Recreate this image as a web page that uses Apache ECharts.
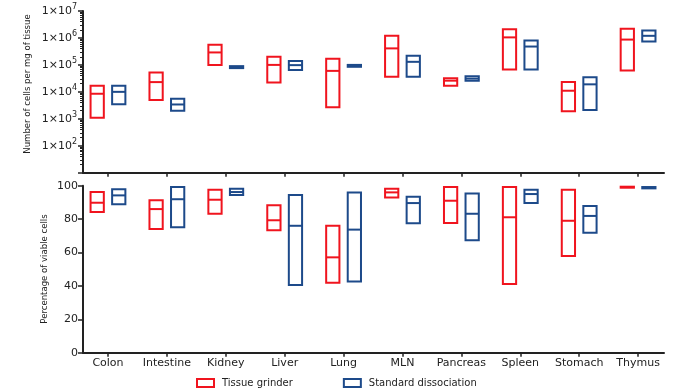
<!DOCTYPE html>
<html>
<head>
<meta charset="utf-8">
<script src="https://cdn.jsdelivr.net/npm/echarts@6/dist/echarts.min.js"></script>
<style>
html,body{margin:0;padding:0;background:#fff;}
#chart{width:688px;height:391px;}
</style>
</head>
<body>
<div id="chart"></div>
<script>
// Categories (tissues)
const categories = ['Colon','Intestine','Kidney','Liver','Lung','MLN','Pancreas','Spleen','Stomach','Thymus'];

// Number of cells per mg of tissue: [min, median, max]
const cellsGrinder = [
  [1.1e3, 8.5e3, 1.7e4],
  [5.0e3, 2.3e4, 5.2e4],
  [1.0e5, 2.9e5, 5.6e5],
  [2.2e4, 1.0e5, 2.0e5],
  [2.7e3, 6.0e4, 1.7e5],
  [3.6e4, 4.1e5, 1.2e6],
  [1.7e4, 2.6e4, 3.2e4],
  [6.8e4, 1.05e6, 2.1e6],
  [1.9e3, 1.1e4, 2.3e4],
  [6.2e4, 8.7e5, 2.2e6]
];
const cellsStandard = [
  [3.5e3, 1.0e4, 1.7e4],
  [2.0e3, 3.4e3, 5.5e3],
  [7.6e4, 8.3e4, 9.0e4],
  [6.5e4, 9.8e4, 1.4e5],
  [8.5e4, 9.2e4, 1.0e5],
  [3.6e4, 1.3e5, 2.2e5],
  [2.6e4, 3.1e4, 3.8e4],
  [6.8e4, 4.8e5, 8.1e5],
  [2.1e3, 1.9e4, 3.5e4],
  [7.4e5, 1.2e6, 1.9e6]
];

// Percentage of viable cells: [min, median, max]
const viableGrinder = [
  [84.3, 89.8, 96.2],
  [74.1, 86.0, 91.3],
  [83.2, 91.6, 97.6],
  [73.3, 79.3, 88.3],
  [41.9, 57.1, 76.0],
  [93.0, 96.0, 98.2],
  [77.7, 91.0, 99.2],
  [41.1, 81.1, 99.2],
  [57.9, 79.0, 97.6],
  [99.0, 99.2, 99.4]
];
const viableStandard = [
  [88.9, 94.2, 97.8],
  [75.1, 91.9, 99.2],
  [94.4, 96.2, 98.2],
  [40.5, 76.0, 94.4],
  [42.7, 73.7, 96.0],
  [77.5, 89.6, 93.4],
  [67.3, 83.2, 95.4],
  [89.6, 95.0, 97.6],
  [71.9, 81.9, 87.8],
  [98.4, 98.8, 99.2]
];

// Axis tick labels
const logTickExponents = [2,3,4,5,6,7];
const viableTicks = [0,20,40,60,80,100];

const RED = '#f0141e';
const BLUE = '#1d4a8a';
const AXIS = '#222';
const FONT = 'DejaVu Sans';
const catIdx = categories.map((c,i)=>i);

function toRows(arr){ return arr.map((d,i)=>[i, d[0], d[1], d[2]]); }

function makeRender(color, side){
  return function(params, api){
    const i = api.value(0);
    const unit = api.size([1,0])[0];
    const cx = api.coord([i, api.value(2)])[0] + side*0.183*unit;
    const w = 0.225*unit;
    const yTop = api.coord([i, api.value(3)])[1];
    const yMed = api.coord([i, api.value(2)])[1];
    const yBot = api.coord([i, api.value(1)])[1];
    return {
      type:'group',
      children:[
        {type:'rect', shape:{x:cx-w/2, y:yTop, width:w, height:Math.max(yBot-yTop,1)},
         style:{fill:'none', stroke:color, lineWidth:2}},
        {type:'line', shape:{x1:cx-w/2, y1:yMed, x2:cx+w/2, y2:yMed},
         style:{stroke:color, lineWidth:2}}
      ]
    };
  };
}

// minor tick positions (in log10 space) for decoration
const minorTicks = [];
for (let n=1;n<7;n++){ for (let k=2;k<10;k++){ minorTicks.push(n+Math.log10(k)); } }

const xCommon = {
  type:'value', min:-0.424, max:9.44,
  axisLine:{show:true, onZero:false, lineStyle:{color:AXIS, width:2}},
  axisTick:{show:true, customValues:catIdx, length:4, lineStyle:{color:AXIS, width:1.5}},
  splitLine:{show:false}
};

const option = {
  animation:false,
  backgroundColor:'#fff',
  textStyle:{fontFamily:FONT},
  grid:[
    {left:83, right:24, top:11, height:161.7},
    {left:83, right:24, top:185.7, height:167}
  ],
  xAxis:[
    Object.assign({}, xCommon, {gridIndex:0, axisLabel:{show:false}}),
    Object.assign({}, xCommon, {gridIndex:1,
      axisLabel:{show:true, customValues:catIdx, color:AXIS, fontSize:11, fontFamily:FONT, margin:5,
        formatter:(v)=>categories[Math.round(v)]}})
  ],
  yAxis:[
    {type:'log', logBase:10, gridIndex:0, position:'left', min:10, max:1e7, splitNumber:6,
     axisLine:{show:true, onZero:false, lineStyle:{color:AXIS, width:2}},
     axisTick:{show:true, length:5, lineStyle:{color:AXIS, width:1.5}},
     splitLine:{show:false},
     axisLabel:{color:AXIS, margin:6, fontFamily:FONT,
       formatter:function(v){
         const e = Math.round(Math.log10(v));
         if (logTickExponents.indexOf(e) < 0) return '';
         return '{b|1×10}{s|' + e + '}';
       },
       rich:{
         b:{fontSize:11, color:AXIS, fontFamily:FONT},
         s:{fontSize:8, color:AXIS, fontFamily:FONT, padding:[0,0,8,0]}
       }
     }
    },
    {type:'value', gridIndex:0, position:'left', offset:0, min:1, max:7,
     axisLine:{show:false, onZero:false},
     axisTick:{show:true, customValues:minorTicks, length:3, lineStyle:{color:AXIS, width:1}},
     axisLabel:{show:false}, splitLine:{show:false}
    },
    {type:'value', gridIndex:1, position:'left', min:0, max:100, interval:20,
     axisLine:{show:true, onZero:false, lineStyle:{color:AXIS, width:2}},
     axisTick:{show:true, length:5, lineStyle:{color:AXIS, width:1.5}},
     splitLine:{show:false},
     axisLabel:{color:AXIS, fontSize:11, fontFamily:FONT, margin:5,
       customValues:viableTicks}
    }
  ],
  legend:{
    left:191, top:373, itemWidth:17, itemHeight:8, itemGap:50,
    textStyle:{fontSize:10, color:AXIS, fontFamily:FONT, padding:[0,0,0,3]},
    data:[
      {name:'Tissue grinder', icon:'rect', itemStyle:{color:'#fff', borderColor:RED, borderWidth:2}},
      {name:'Standard dissociation', icon:'rect', itemStyle:{color:'#fff', borderColor:BLUE, borderWidth:2}}
    ]
  },
  graphic:[
    {type:'text', x:28, y:84, rotation:Math.PI/2,
     style:{text:'Number of cells per mg of tissue', fontSize:9.5, fontFamily:'DejaVu Sans Condensed', fill:AXIS, textAlign:'center', textVerticalAlign:'middle'}},
    {type:'text', x:45, y:269, rotation:Math.PI/2,
     style:{text:'Percentage of viable cells', fontSize:9.5, fontFamily:'DejaVu Sans Condensed', fill:AXIS, textAlign:'center', textVerticalAlign:'middle'}}
  ],
  series:[
    {name:'Tissue grinder', type:'custom', xAxisIndex:0, yAxisIndex:0,
     renderItem:makeRender(RED,-1), encode:{x:0, y:[1,2,3]}, data:toRows(cellsGrinder),
     itemStyle:{color:RED}},
    {name:'Standard dissociation', type:'custom', xAxisIndex:0, yAxisIndex:0,
     renderItem:makeRender(BLUE,1), encode:{x:0, y:[1,2,3]}, data:toRows(cellsStandard),
     itemStyle:{color:BLUE}},
    {name:'Tissue grinder', type:'custom', xAxisIndex:1, yAxisIndex:2,
     renderItem:makeRender(RED,-1), encode:{x:0, y:[1,2,3]}, data:toRows(viableGrinder),
     itemStyle:{color:RED}},
    {name:'Standard dissociation', type:'custom', xAxisIndex:1, yAxisIndex:2,
     renderItem:makeRender(BLUE,1), encode:{x:0, y:[1,2,3]}, data:toRows(viableStandard),
     itemStyle:{color:BLUE}}
  ]
};

const chart = echarts.init(document.getElementById('chart'), null, {renderer:'canvas'});
chart.setOption(option);
</script>
</body>
</html>
